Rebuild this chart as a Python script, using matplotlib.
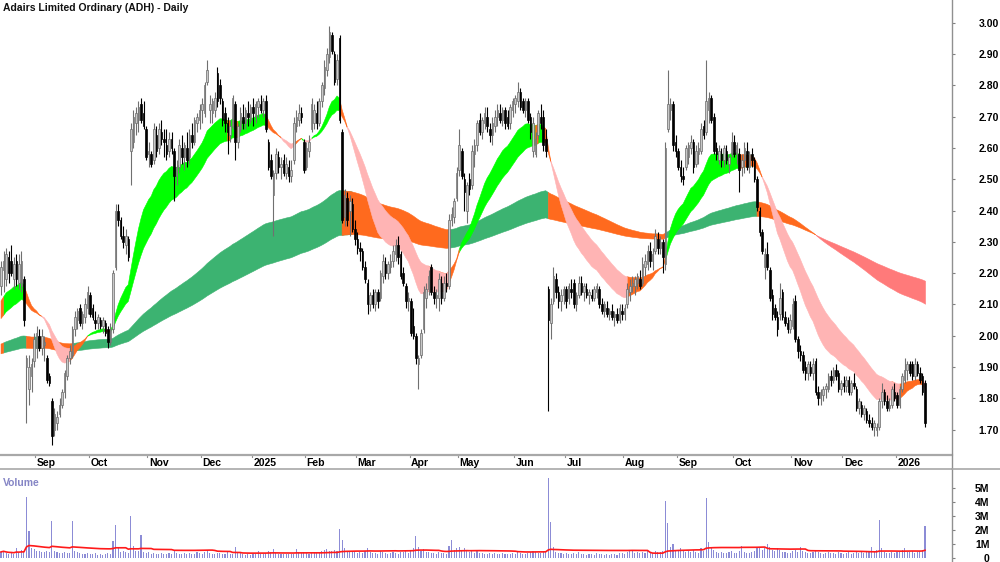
import numpy as np
import pandas as pd
import matplotlib
matplotlib.use("Agg")
import matplotlib.pyplot as plt
import matplotlib.transforms as mtransforms
from matplotlib.lines import Line2D

plt.rcParams['font.family'] = ['Liberation Sans', 'DejaVu Sans']

# ---- data (prices in cents, volume in thousands), one value per trading day ----
start_date = '2024-08-13'
end_date = '2026-01-19'
asx_holidays = ['2024-12-25', '2024-12-26', '2025-01-01', '2025-01-27', '2025-04-18',
                '2025-04-21', '2025-04-25', '2025-06-09', '2025-12-25', '2025-12-26',
                '2026-01-01']

opens = [
    216, 221, 218, 225, 224, 218, 224, 217, 216, 218, 190, 183, 187, 192, 196, 200, 196, 197, 193, 187,
    179, 170, 172, 175, 178, 182, 187, 193, 194, 202, 205, 209, 204, 206, 209, 213, 209, 205, 204, 205,
    203, 204, 202, 198, 202, 222, 240, 237, 232, 229, 231, 259, 262, 268, 269, 274, 271, 266, 258, 258,
    256, 264, 260, 265, 263, 261, 259, 263, 259, 251, 254, 260, 257, 260, 257, 264, 262, 268, 269, 272,
    271, 281, 272, 271, 272, 284, 280, 275, 271, 268, 264, 267, 274, 262, 266, 270, 268, 271, 269, 273,
    270, 273, 274, 272, 275, 262, 256, 245, 252, 257, 254, 256, 252, 254, 251, 256, 267, 269, 271, 262,
    254, 259, 266, 268, 271, 268, 275, 279, 285, 289, 296, 290, 282, 295, 265, 238, 244, 240, 242, 234,
    231, 228, 227, 222, 217, 210, 213, 210, 214, 212, 219, 223, 220, 222, 224, 226, 229, 226, 220, 216,
    211, 211, 203, 200, 191, 194, 202, 212, 215, 222, 214, 212, 212, 217, 212, 217, 216, 237, 238, 244,
    253, 259, 250, 240, 250, 248, 258, 261, 269, 265, 268, 270, 266, 264, 267, 270, 271, 269, 272, 270,
    268, 272, 274, 275, 278, 275, 272, 275, 270, 259, 258, 264, 270, 270, 263, 215, 204, 211, 218, 214,
    211, 213, 215, 212, 215, 217, 210, 213, 217, 214, 215, 213, 213, 212, 214, 215, 210, 208, 209, 207,
    208, 206, 207, 205, 208, 207, 210, 214, 216, 216, 217, 218, 217, 222, 223, 227, 224, 227, 231, 228,
    230, 223, 266, 272, 274, 262, 259, 254, 251, 254, 257, 260, 262, 255, 258, 259, 267, 265, 272, 276,
    270, 260, 256, 258, 256, 259, 255, 258, 262, 258, 258, 254, 256, 259, 254, 258, 256, 250, 240, 233,
    222, 226, 221, 213, 209, 206, 207, 214, 206, 204, 202, 203, 211, 199, 195, 194, 190, 188, 190, 188,
    192, 182, 180, 181, 183, 183, 187, 186, 189, 188, 183, 185, 184, 186, 182, 185, 183, 177, 178, 175,
    176, 173, 172, 171, 170, 171, 179, 182, 179, 177, 178, 182, 181, 178, 183, 186, 189, 191, 191, 187,
    191, 188, 187, 185,
]
highs = [
    224, 227, 228, 227, 229, 225, 226, 226, 227, 219, 194, 194, 193, 201, 203, 202, 202, 200, 194, 188,
    180, 177, 176, 180, 183, 189, 194, 197, 203, 208, 209, 210, 208, 212, 216, 214, 210, 208, 207, 206,
    206, 205, 203, 204, 221, 242, 242, 238, 235, 234, 232, 268, 272, 273, 275, 276, 275, 267, 262, 259,
    268, 267, 268, 269, 266, 266, 265, 265, 260, 256, 263, 264, 262, 265, 266, 268, 270, 271, 274, 276,
    281, 288, 277, 276, 278, 286, 282, 276, 273, 270, 269, 277, 275, 268, 273, 274, 273, 275, 274, 276,
    275, 276, 277, 276, 277, 263, 258, 253, 260, 259, 257, 258, 257, 256, 256, 270, 272, 274, 273, 263,
    262, 264, 276, 274, 275, 276, 281, 288, 292, 299, 297, 291, 290, 296, 266, 247, 246, 245, 244, 237,
    233, 230, 228, 224, 218, 214, 215, 215, 215, 221, 226, 225, 224, 226, 229, 231, 232, 227, 222, 217,
    214, 212, 209, 201, 194, 202, 216, 217, 221, 223, 216, 215, 220, 219, 219, 220, 239, 241, 244, 254,
    266, 260, 252, 249, 252, 261, 263, 269, 271, 270, 273, 273, 268, 270, 272, 274, 274, 273, 273, 272,
    274, 276, 277, 281, 279, 276, 276, 276, 271, 270, 265, 272, 274, 272, 266, 216, 212, 222, 220, 216,
    215, 216, 216, 217, 218, 218, 214, 219, 219, 217, 217, 215, 215, 216, 217, 216, 212, 211, 211, 209,
    210, 208, 209, 210, 210, 210, 217, 218, 219, 219, 220, 221, 225, 226, 229, 230, 228, 234, 233, 232,
    231, 262, 285, 276, 275, 264, 260, 256, 254, 261, 262, 264, 263, 261, 262, 268, 269, 288, 278, 277,
    271, 262, 261, 260, 261, 261, 258, 265, 264, 262, 260, 258, 262, 262, 259, 260, 257, 251, 241, 234,
    228, 230, 222, 215, 210, 208, 217, 215, 208, 206, 207, 212, 213, 200, 197, 195, 192, 192, 192, 193,
    193, 184, 183, 184, 185, 188, 189, 190, 191, 189, 186, 187, 187, 187, 186, 188, 184, 180, 179, 178,
    177, 175, 174, 173, 172, 180, 185, 183, 181, 180, 184, 185, 182, 184, 188, 193, 192, 192, 192, 193,
    192, 190, 188, 186,
]
lows = [
    213, 214, 216, 217, 219, 215, 216, 215, 214, 203, 172, 178, 182, 190, 193, 195, 194, 192, 185, 184,
    165, 168, 170, 174, 177, 180, 186, 191, 193, 200, 202, 203, 202, 204, 207, 206, 205, 202, 202, 202,
    201, 200, 196, 197, 201, 221, 235, 231, 228, 226, 224, 248, 260, 264, 265, 268, 266, 256, 254, 254,
    255, 257, 258, 261, 257, 256, 257, 258, 243, 248, 252, 255, 253, 254, 255, 260, 261, 265, 266, 268,
    270, 280, 268, 268, 270, 273, 274, 267, 265, 258, 262, 266, 256, 260, 265, 266, 266, 267, 268, 267,
    268, 270, 271, 270, 265, 253, 250, 232, 250, 252, 250, 251, 250, 249, 249, 255, 265, 267, 268, 252,
    253, 257, 265, 266, 266, 267, 273, 277, 283, 287, 290, 280, 280, 268, 236, 235, 235, 232, 233, 229,
    226, 224, 221, 217, 207, 208, 209, 208, 209, 211, 217, 218, 218, 220, 222, 224, 223, 218, 216, 209,
    208, 200, 199, 191, 183, 193, 201, 209, 213, 213, 210, 209, 208, 210, 211, 214, 215, 235, 236, 243,
    251, 250, 240, 236, 245, 247, 254, 259, 264, 263, 266, 265, 262, 261, 265, 267, 268, 267, 266, 266,
    266, 270, 271, 273, 272, 271, 270, 268, 263, 257, 257, 263, 266, 259, 257, 176, 199, 210, 212, 209,
    208, 210, 209, 210, 212, 209, 208, 212, 213, 211, 212, 210, 211, 211, 212, 209, 207, 206, 206, 205,
    205, 203, 204, 204, 205, 205, 209, 211, 214, 213, 215, 215, 216, 219, 221, 222, 221, 226, 226, 226,
    220, 221, 265, 269, 259, 257, 253, 249, 248, 253, 255, 258, 252, 254, 255, 258, 263, 264, 268, 268,
    258, 256, 255, 254, 254, 255, 252, 257, 257, 255, 246, 251, 252, 253, 252, 254, 249, 240, 232, 226,
    218, 221, 211, 205, 205, 200, 205, 205, 203, 201, 201, 202, 198, 193, 192, 188, 186, 186, 187, 186,
    181, 178, 178, 179, 180, 182, 184, 185, 186, 182, 181, 182, 182, 181, 181, 183, 176, 175, 174, 173,
    172, 171, 170, 168, 168, 170, 177, 178, 176, 176, 177, 179, 177, 177, 182, 185, 186, 187, 186, 186,
    187, 185, 181, 171,
]
closes = [
    222, 224, 226, 220, 220, 223, 218, 223, 224, 205, 193, 190, 191, 199, 201, 196, 200, 198, 186, 185,
    168, 175, 174, 178, 182, 188, 193, 195, 202, 206, 208, 204, 207, 210, 214, 207, 206, 204, 206, 203,
    205, 201, 198, 202, 220, 240, 237, 232, 230, 232, 225, 266, 270, 271, 273, 269, 267, 257, 259, 255,
    266, 259, 266, 263, 262, 258, 263, 260, 251, 254, 261, 257, 261, 256, 264, 262, 269, 270, 272, 274,
    280, 285, 274, 275, 276, 275, 276, 269, 268, 265, 267, 276, 262, 267, 271, 268, 272, 270, 273, 271,
    274, 275, 272, 275, 266, 254, 251, 252, 258, 254, 255, 252, 255, 251, 253, 268, 270, 271, 270, 253,
    260, 262, 274, 272, 268, 275, 280, 286, 290, 297, 291, 281, 288, 269, 237, 245, 237, 243, 234, 231,
    228, 227, 222, 218, 210, 213, 210, 214, 211, 220, 224, 220, 223, 224, 227, 229, 225, 219, 217, 211,
    212, 201, 200, 193, 193, 201, 214, 215, 219, 214, 212, 213, 218, 212, 217, 216, 237, 239, 243, 252,
    261, 251, 246, 248, 247, 259, 261, 268, 265, 269, 271, 267, 264, 268, 270, 272, 269, 272, 268, 267,
    273, 275, 276, 278, 273, 272, 275, 269, 265, 268, 263, 271, 268, 261, 259, 205, 210, 219, 214, 211,
    213, 215, 211, 216, 214, 210, 213, 217, 214, 216, 213, 214, 212, 215, 216, 210, 208, 210, 207, 208,
    206, 207, 205, 209, 207, 209, 215, 216, 217, 218, 219, 216, 223, 224, 227, 224, 226, 232, 228, 230,
    225, 260, 274, 274, 261, 259, 254, 251, 250, 260, 261, 262, 254, 259, 260, 266, 264, 275, 276, 269,
    259, 258, 259, 256, 260, 256, 257, 262, 258, 261, 253, 256, 260, 254, 258, 256, 250, 241, 233, 227,
    226, 222, 212, 207, 206, 202, 212, 206, 204, 202, 205, 210, 199, 195, 194, 189, 188, 191, 188, 191,
    182, 180, 182, 183, 184, 187, 186, 189, 187, 183, 185, 184, 186, 182, 185, 184, 177, 179, 175, 177,
    173, 172, 171, 172, 171, 179, 182, 179, 177, 178, 183, 180, 178, 183, 187, 189, 191, 188, 187, 191,
    188, 186, 182, 172,
]
volumes = [
    430, 520, 340, 310, 360, 280, 700, 380, 570, 450, 4350, 1950, 740, 650, 520, 490, 450, 390, 510, 420,
    2670, 520, 390, 340, 360, 450, 370, 340, 2670, 490, 390, 360, 260, 310, 370, 280, 250, 340, 220, 300,
    240, 280, 340, 310, 1240, 2360, 790, 460, 520, 410, 370, 3000, 830, 490, 520, 1640, 450, 340, 390, 280,
    370, 310, 260, 360, 300, 250, 340, 280, 570, 370, 310, 280, 340, 260, 370, 310, 280, 410, 360, 300,
    450, 560, 370, 310, 280, 340, 370, 300, 260, 410, 310, 280, 790, 450, 340, 280, 240, 300, 220, 260,
    280, 520, 310, 260, 370, 490, 390, 650, 370, 310, 280, 260, 310, 250, 280, 300, 650, 410, 340, 450,
    360, 310, 410, 370, 340, 450, 490, 560, 660, 520, 490, 600, 520, 2100, 1300, 680, 520, 490, 450, 410,
    370, 450, 360, 520, 680, 410, 370, 340, 300, 490, 450, 360, 310, 370, 410, 340, 300, 450, 410, 520,
    370, 600, 680, 1600, 750, 520, 640, 450, 410, 370, 340, 300, 450, 370, 340, 300, 830, 1250, 600, 680,
    750, 520, 680, 600, 450, 520, 370, 490, 340, 370, 310, 280, 340, 300, 370, 260, 300, 340, 280, 260,
    310, 360, 300, 410, 340, 280, 300, 370, 450, 520, 410, 340, 370, 490, 520, 5700, 2600, 750, 450, 370,
    340, 300, 370, 280, 260, 340, 300, 410, 280, 260, 220, 300, 260, 240, 340, 300, 280, 220, 260, 240,
    280, 260, 220, 340, 370, 300, 450, 600, 490, 370, 410, 340, 450, 370, 490, 340, 370, 520, 410, 450,
    520, 4100, 2500, 750, 980, 600, 520, 680, 490, 450, 520, 410, 600, 450, 370, 680, 520, 4300, 1150, 680,
    600, 450, 370, 410, 340, 370, 450, 520, 370, 340, 520, 830, 450, 370, 340, 410, 520, 680, 750, 600,
    680, 980, 750, 600, 520, 680, 600, 450, 410, 370, 340, 520, 600, 450, 750, 520, 410, 370, 340, 450,
    600, 450, 340, 300, 370, 450, 340, 370, 300, 410, 340, 300, 370, 410, 300, 340, 520, 370, 450, 340,
    410, 450, 750, 520, 600, 2700, 680, 450, 370, 340, 450, 370, 410, 520, 600, 680, 450, 410, 520, 370,
    450, 520, 600, 2300,
]

# moving-average ribbons: periods and the values they carry in from before the window
short_periods = [20, 35]
short_seeds = [2.10, 2.045]
long_periods = [150, 250]
long_seeds = [1.97, 1.94]
vol_ma_period = 40


def ema(values, period, seed):
    alpha = 2.0 / (period + 1)
    out = np.empty(len(values))
    e = seed
    for i, v in enumerate(values):
        e = e + alpha * (v - e)
        out[i] = e
    return out


def band_state(fast, slow):
    slope = np.diff(fast, prepend=fast[0]) + np.diff(slow, prepend=slow[0])
    bull = fast > slow
    up = slope > 0
    # 0 = rising & bullish order, 2 = falling & bearish order, 1 = mixed
    return np.where(bull & up, 0, np.where(~bull & ~up, 2, 1))


def draw_band(ax, x, a, b, state, colors, z):
    lo = np.minimum(a, b)
    hi = np.maximum(a, b)
    for s, col in enumerate(colors):
        m = state == s
        m2 = m.copy()
        m2[1:] |= m[:-1]
        ax.fill_between(x, lo, hi, where=m2, color=col, edgecolor=col,
                        linewidth=0.4, zorder=z)


def main():
    o = np.array(opens) / 100.0
    h = np.array(highs) / 100.0
    l = np.array(lows) / 100.0
    c = np.array(closes) / 100.0
    v = np.array(volumes) / 1000.0
    n = len(c)
    x = np.arange(n)

    dates = pd.bdate_range(start_date, end_date, freq='C', holidays=asx_holidays)[:n]

    fig = plt.figure(figsize=(10, 5.62), dpi=100)
    ax = fig.add_axes([0.0, 0.1904, 0.952, 0.8096])
    axv = fig.add_axes([0.0, 0.0, 0.952, 0.1655])

    # ribbons
    s_fast = ema(c, short_periods[0], short_seeds[0])
    s_slow = ema(c, short_periods[1], short_seeds[1])
    l_fast = ema(c, long_periods[0], long_seeds[0])
    l_slow = ema(c, long_periods[1], long_seeds[1])
    draw_band(ax, x, l_fast, l_slow, band_state(l_fast, l_slow),
              ['#3cb371', '#ff6a1e', '#ff7a7a'], 1)
    draw_band(ax, x, s_fast, s_slow, band_state(s_fast, s_slow),
              ['#00ff00', '#ff6a1e', '#ffb4b4'], 2)

    # candles
    up = c >= o
    wick_col = np.where(up, '#707070', '#000000')
    ax.vlines(x, l, h, colors=wick_col, linewidth=0.8, zorder=3)
    body_lo = np.minimum(o, c)
    body_h = np.maximum(np.abs(c - o), 0.004)
    ax.bar(x, body_h, bottom=body_lo, width=0.62,
           color=np.where(up, '#c8c8c8', '#000000'),
           edgecolor=np.where(up, '#6a6a6a', '#000000'), linewidth=0.5, zorder=4)

    ax.set_xlim(-0.4, 373.6)
    ax.set_ylim(1.619, 3.0725)
    ax.set_yticks(np.arange(1.7, 3.001, 0.1))
    ax.set_yticklabels([f'{t:.2f}' for t in np.arange(1.7, 3.001, 0.1)])
    ax.yaxis.tick_right()
    ax.tick_params(axis='y', direction='out', length=2, color='#808080', pad=17,
                   labelsize=7.5)
    for lab in ax.get_yticklabels():
        lab.set_fontweight('bold')

    # month ticks and labels
    months = pd.Series(x, index=dates)
    firsts = months.groupby([dates.year, dates.month]).first()
    month_idx, month_lab = [], []
    for (yr, mo), idx in firsts.items():
        if dates[idx].day > 7:
            continue
        month_idx.append(idx)
        month_lab.append(str(yr) if mo == 1 else dates[idx].strftime('%b'))
    ax.set_xticks(month_idx)
    ax.set_xticklabels([])
    ax.tick_params(axis='x', direction='in', length=0)
    trans = mtransforms.blended_transform_factory(ax.transData, ax.transAxes)
    for idx, lab in zip(month_idx, month_lab):
        ax.plot([idx - 0.5, idx - 0.5], [-0.0055, 0.0], transform=trans, color='#909090',
                lw=0.8, clip_on=False)
        ax.text(idx + 0.1, -0.0175, lab, transform=trans, ha='left', va='center',
                fontsize=7.5, fontweight='bold', color='#000000')

    for sp in ['top', 'left', 'right']:
        ax.spines[sp].set_visible(False)
    ax.spines['bottom'].set_color('#a8a8a8')
    ax.spines['bottom'].set_linewidth(1.6)

    # volume
    axv.bar(x, v, width=0.42, color='#8c8cd6', linewidth=0, zorder=2)
    vma = pd.Series(v).rolling(vol_ma_period, min_periods=1).mean().values
    axv.plot(x, vma, color='#ff1a1a', linewidth=1.2, zorder=3)
    axv.set_xlim(-0.4, 373.6)
    axv.set_ylim(-0.29, 6.36)
    axv.set_xticks([])
    axv.set_yticks([0, 1, 2, 3, 4, 5])
    axv.set_yticklabels(['0', '1M', '2M', '3M', '4M', '5M'])
    axv.yaxis.tick_right()
    axv.tick_params(axis='y', direction='out', length=2, color='#808080', pad=25,
                    labelsize=7.5)
    for lab in axv.get_yticklabels():
        lab.set_fontweight('bold')
        lab.set_horizontalalignment('right')
    for sp in ['bottom', 'left', 'right']:
        axv.spines[sp].set_visible(False)
    axv.spines['top'].set_color('#a8a8a8')
    axv.spines['top'].set_linewidth(1.2)
    axv.text(0.003, 0.85, 'Volume', transform=axv.transAxes, fontsize=7.5,
             fontweight='bold', color='#8585c5', ha='left', va='center')

    # frame lines
    fig.add_artist(Line2D([0.952, 0.952], [0.0, 1.0], transform=fig.transFigure,
                          color='#909090', linewidth=1.0))
    fig.add_artist(Line2D([0.952, 1.0], [0.1655, 0.1655], transform=fig.transFigure,
                          color='#a8a8a8', linewidth=1.2))

    fig.text(0.003, 0.986, 'Adairs Limited Ordinary (ADH) - Daily', fontsize=7.5,
             fontweight='bold', ha='left', va='center', color='#111111')

    fig.savefig('out.png', dpi=100)
    plt.close(fig)


if __name__ == '__main__':
    main()
